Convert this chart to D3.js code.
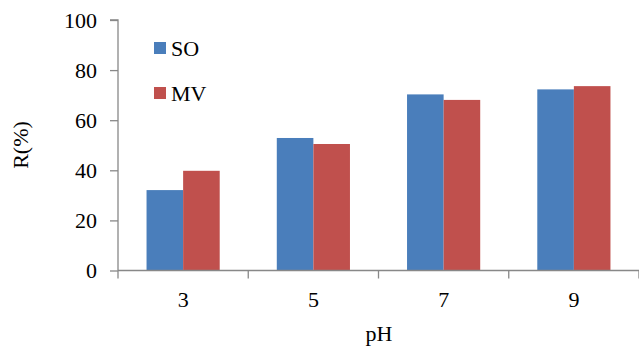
<!DOCTYPE html>
<html><head><meta charset="utf-8">
<script src="https://cdn.jsdelivr.net/npm/d3@7"></script>
<style>body{margin:0;background:#fff}svg{display:block}svg text{font-family:'Liberation Serif','Times New Roman',Times,'DejaVu Serif',serif !important;fill:#000}</style>
</head><body><svg id="c" width="639" height="349"></svg>
<script>
const categories = ["3","5","7","9"];
const seriesNames = ["SO","MV"];
const soValues = [32.1, 52.9, 70.3, 72.3];
const mvValues = [39.8, 50.5, 68.1, 73.6];
const yTicks = [0,20,40,60,80,100];
const colors = ["#4a7ebb","#c0504d"];

const FONT = "'Liberation Serif','Times New Roman',Times,'DejaVu Serif',serif";
const svg = d3.select("#c");
const x0 = 118, x1 = 639, yTop = 20, yBot = 270.5;
const x = d3.scaleBand().domain(categories).range([x0,x1]).paddingInner(0).paddingOuter(0);
const inner = d3.scaleBand().domain(seriesNames).range([0, x.bandwidth()]).paddingInner(0).paddingOuter(0.78);
const y = d3.scaleLinear().domain([0,100]).range([yBot,yTop]);
const series = [soValues, mvValues];

seriesNames.forEach((s,si)=>{
  svg.append("g").selectAll("rect").data(series[si]).join("rect")
    .attr("x",(d,i)=>x(categories[i])+inner(s))
    .attr("width",inner.bandwidth())
    .attr("y",d=>y(d))
    .attr("height",d=>y(0)-y(d))
    .attr("fill",colors[si]);
});

// y axis
const ya = svg.append("g").attr("transform",`translate(${x0},0)`)
  .call(d3.axisLeft(y).tickValues(yTicks).tickSize(8).tickPadding(13));
ya.attr("font-family",null).attr("font-size",null);
ya.select(".domain").attr("stroke","#888").attr("stroke-width",1.3).attr("d",`M-8,${yTop}H0V${yBot}`);
ya.selectAll(".tick line").attr("stroke","#888").attr("stroke-width",1.3);
ya.selectAll(".tick text").style("font-size","22px").style("font-family",FONT).attr("fill","#000");

// x axis
const xa = svg.append("g").attr("transform",`translate(0,${yBot})`)
  .call(d3.axisBottom(x).tickSize(0).tickPadding(21));
xa.attr("font-family",null).attr("font-size",null);
xa.select(".domain").attr("stroke","#888").attr("stroke-width",1.3).attr("d",`M${x0},0H${x1}`);
xa.selectAll(".tick text").style("font-size","22px").style("font-family",FONT).attr("fill","#000");
const bounds = categories.map(c=>x(c)).concat([x1]);
xa.selectAll("line.sep").data(bounds).join("line").attr("class","sep")
  .attr("x1",d=>d).attr("x2",d=>d).attr("y1",0).attr("y2",8)
  .attr("stroke","#888").attr("stroke-width",1.3);

// axis titles
svg.append("text").attr("x",379).attr("y",341).attr("text-anchor","middle").style("font-size","22px").style("font-family",FONT).text("pH");
svg.append("text").attr("transform","translate(28,145) rotate(-90)").attr("text-anchor","middle").style("font-size","22px").style("font-family",FONT).text("R(%)");

// legend
const leg = svg.append("g");
seriesNames.forEach((s,i)=>{
  const cy = 48 + i*45;
  leg.append("rect").attr("x",154).attr("y",cy-6).attr("width",12).attr("height",12).attr("fill",colors[i]);
  leg.append("text").attr("x",171).attr("y",cy+8).style("font-size","22px").style("font-family",FONT).text(s);
});
</script></body></html>
